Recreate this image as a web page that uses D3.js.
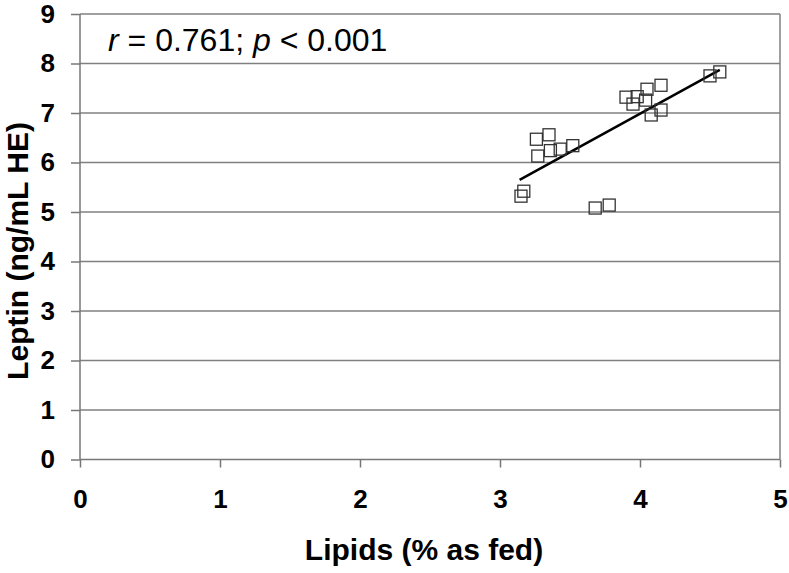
<!DOCTYPE html>
<html>
<head>
<meta charset="utf-8">
<title>Leptin vs Lipids</title>
<script src="https://cdn.jsdelivr.net/npm/d3@7"></script>
<style>
  body { margin: 0; background: #fff; }
  svg { display: block; }
  .tick-label { font-family: "Liberation Sans", Arial, sans-serif; font-weight: bold; font-size: 26px; fill: #000; }
  .title { font-family: "Liberation Sans", Arial, sans-serif; font-weight: bold; font-size: 30px; fill: #000; }
  .note { font-family: "Liberation Sans", Arial, sans-serif; font-size: 32px; fill: #000; }
</style>
</head>
<body>
<div id="chart"></div>
<script>
// values
var lipids = [4.57, 4.50, 4.15, 4.05, 3.90, 3.98, 3.95, 4.04, 4.15, 4.08,
              3.26, 3.35, 3.27, 3.36, 3.43, 3.52, 3.17, 3.15, 3.68, 3.78];
var leptin = [7.83, 7.75, 7.56, 7.48, 7.32, 7.33, 7.18, 7.26, 7.06, 6.96,
              6.47, 6.56, 6.13, 6.24, 6.27, 6.34, 5.42, 5.32, 5.08, 5.14];
var trendX = [3.14, 4.57];
var trendY = [5.65, 7.87];
var xTicks = [0, 1, 2, 3, 4, 5];
var yTicks = [0, 1, 2, 3, 4, 5, 6, 7, 8, 9];

var width = 789, height = 573;
var plotL = 80, plotR = 780, plotT = 14, plotB = 459.5;

var x = d3.scaleLinear().domain([0, 5]).range([plotL, plotR]);
var y = d3.scaleLinear().domain([0, 9]).range([plotB, plotT]);

var svg = d3.select("#chart").append("svg")
  .attr("width", width)
  .attr("height", height);

// horizontal grid lines
svg.selectAll(".grid")
  .data(yTicks.slice(1))
  .enter().append("line")
  .attr("x1", plotL).attr("x2", plotR)
  .attr("y1", function(d){ return y(d); })
  .attr("y2", function(d){ return y(d); })
  .attr("stroke", "#808080")
  .attr("stroke-width", 1.5);

// right border
svg.append("line")
  .attr("x1", plotR).attr("x2", plotR)
  .attr("y1", plotT).attr("y2", plotB)
  .attr("stroke", "#808080").attr("stroke-width", 1.5);

// y axis
var yAxis = d3.axisLeft(y).tickValues(yTicks).tickSize(9).tickPadding(16).tickFormat(d3.format("d"));
var gy = svg.append("g").attr("transform", "translate(" + plotL + ",0)").call(yAxis);
gy.select(".domain").attr("stroke", "#777").attr("stroke-width", 1.5).attr("d", "M0," + plotT + "V" + plotB);
gy.selectAll(".tick line").attr("stroke", "#777").attr("stroke-width", 1.5);
gy.selectAll(".tick text").attr("class", "tick-label");

// x axis
var xAxis = d3.axisBottom(x).tickValues(xTicks).tickSize(8).tickPadding(22).tickFormat(d3.format("d"));
var gx = svg.append("g").attr("transform", "translate(0," + plotB + ")").call(xAxis);
gx.select(".domain").attr("stroke", "#777").attr("stroke-width", 1.5).attr("d", "M" + plotL + ",0H" + plotR);
gx.selectAll(".tick line").attr("stroke", "#777").attr("stroke-width", 1.5);
gx.selectAll(".tick text").attr("class", "tick-label");

// trend line
svg.append("line")
  .attr("x1", x(trendX[0])).attr("y1", y(trendY[0]))
  .attr("x2", x(trendX[1])).attr("y2", y(trendY[1]))
  .attr("stroke", "#000").attr("stroke-width", 2.5);

// square markers
var size = 12;
svg.selectAll(".pt")
  .data(lipids)
  .enter().append("rect")
  .attr("class", "pt")
  .attr("x", function(d){ return x(d) - size / 2; })
  .attr("y", function(d, i){ return y(leptin[i]) - size / 2; })
  .attr("width", size).attr("height", size)
  .attr("fill", "none")
  .attr("stroke", "#333")
  .attr("stroke-width", 1.3);

// stats note
var note = svg.append("text").attr("class", "note").attr("x", 108).attr("y", 51);
note.append("tspan").attr("font-style", "italic").text("r");
note.append("tspan").text(" = 0.761; ");
note.append("tspan").attr("font-style", "italic").text("p");
note.append("tspan").text(" < 0.001");

// axis titles
svg.append("text").attr("class", "title")
  .attr("x", 424).attr("y", 560)
  .attr("text-anchor", "middle")
  .text("Lipids (% as fed)");

svg.append("text").attr("class", "title")
  .attr("transform", "translate(28,251) rotate(-90)")
  .attr("text-anchor", "middle")
  .text("Leptin (ng/mL HE)");
</script>
</body>
</html>
